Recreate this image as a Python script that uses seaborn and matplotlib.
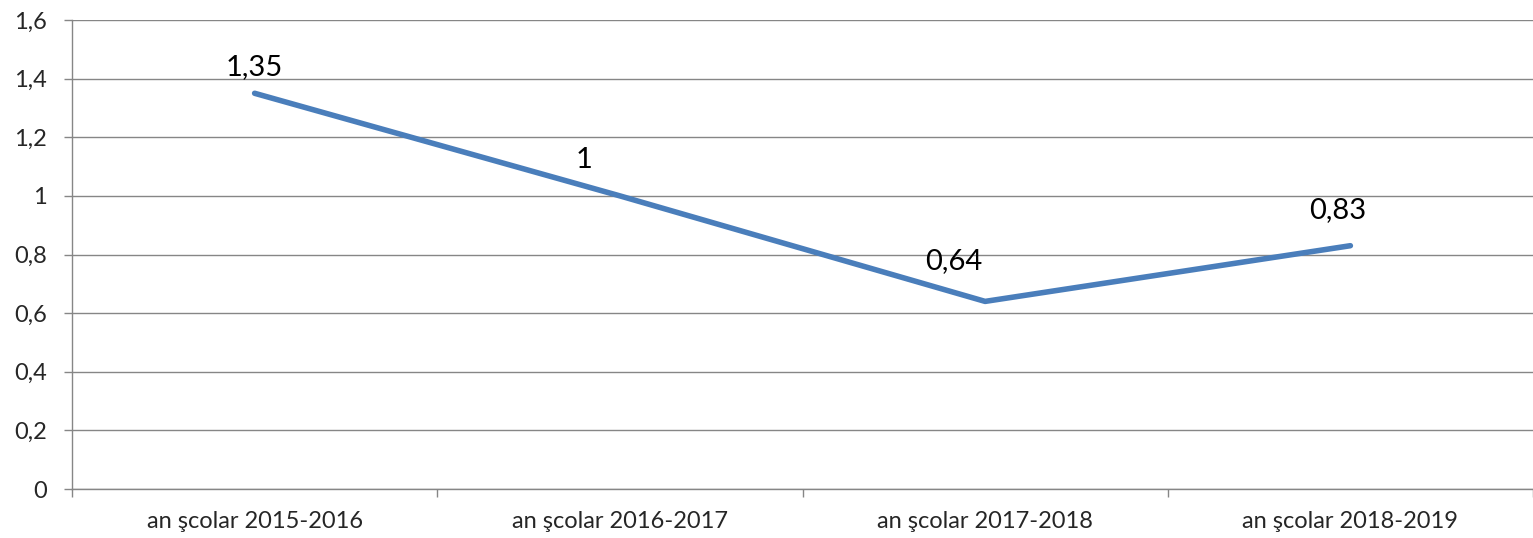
import numpy as np
import pandas as pd
import matplotlib
matplotlib.use("Agg")
import matplotlib.pyplot as plt
from matplotlib.ticker import FixedLocator
import seaborn as sns

# data
ani = ["an şcolar 2015-2016", "an şcolar 2016-2017",
       "an şcolar 2017-2018", "an şcolar 2018-2019"]
valori = [1.35, 1.0, 0.64, 0.83]
etichete = ["1,35", "1", "0,64", "0,83"]
y_ticks = [0, 0.2, 0.4, 0.6, 0.8, 1.0, 1.2, 1.4, 1.6]
y_ticklabels = ["0", "0,2", "0,4", "0,6", "0,8", "1", "1,2", "1,4", "1,6"]

# label offsets in pixels (layout only)
label_dx = [0, -36, -31, -13]
label_dy = [26, 36, 40, 36]

df = pd.DataFrame({"an": ani, "val": valori})

sns.set_style("white")
plt.rcParams["font.family"] = ["Lato", "DejaVu Sans"]

fig = plt.figure(figsize=(15.33, 5.38), dpi=100)
ax = fig.add_axes([72 / 1533, 1 - 489 / 538, 1 - 72 / 1533, (489 - 20) / 538])

sns.lineplot(data=df, x="an", y="val", ax=ax, color="#4a7ebb",
             linewidth=4, solid_capstyle="round", sort=False)

ax.set_xlim(-0.5, len(ani) - 0.5)
ax.set_ylim(0, 1.6)
ax.set_yticks(y_ticks)
ax.set_yticklabels(y_ticklabels, fontsize=17)
ax.set_xticks(range(len(ani)))
ax.set_xticklabels(ani, fontsize=17)
ax.xaxis.set_minor_locator(FixedLocator(np.arange(-0.5, len(ani), 1.0)))
ax.tick_params(axis="x", which="major", length=0, pad=16)
ax.tick_params(axis="x", which="minor", length=6, width=1, color="#868686",
               direction="out", bottom=True)
ax.tick_params(axis="y", length=6, width=1, color="#868686", pad=12,
               direction="out", left=True)

ax.grid(axis="y", color="#868686", linewidth=1)
ax.set_axisbelow(True)
for s in ["top", "right"]:
    ax.spines[s].set_visible(False)
for s in ["left", "bottom"]:
    ax.spines[s].set_color("#868686")
    ax.spines[s].set_linewidth(1)

ax.set_xlabel("")
ax.set_ylabel("")

for i, (v, t) in enumerate(zip(valori, etichete)):
    ax.annotate(t, (i, v), xytext=(label_dx[i] * 0.72, label_dy[i] * 0.72),
                textcoords="offset points", ha="center", va="center",
                fontsize=21, color="black")

fig.savefig("out.png", dpi=100)
